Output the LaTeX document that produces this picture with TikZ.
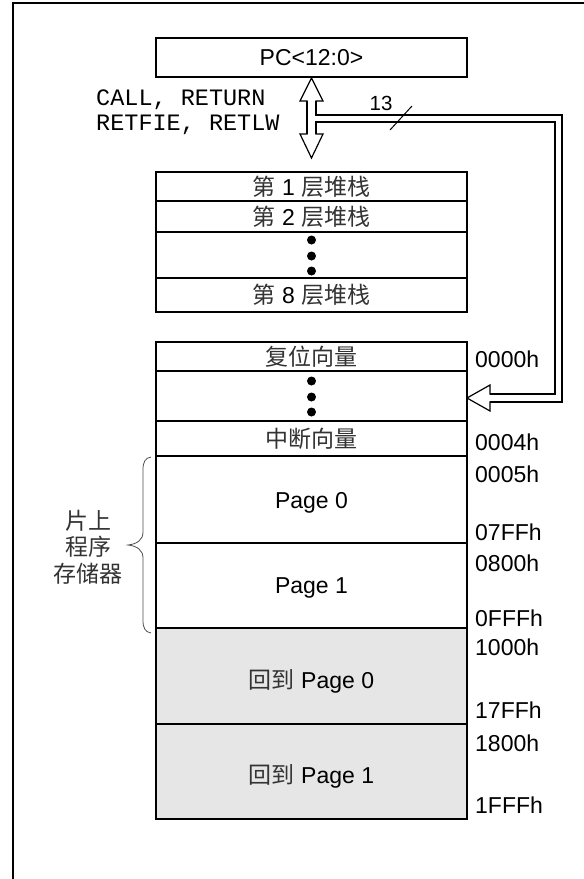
\documentclass[tikz,border=0pt]{standalone}
\usepackage{fontspec}
\setmainfont{Liberation Sans}
\setmonofont{Liberation Mono}
\newfontfamily\cjk{Noto Sans CJK SC}
\definecolor{cjkgray}{HTML}{333333}
\definecolor{memgray}{HTML}{E6E6E6}
\newcommand\zh[1]{{\cjk\color{cjkgray}#1}}
\tikzset{
  cell/.style={draw, line width=2.5pt, fill=white, minimum width=311pt, minimum height=#1, inner sep=0pt, anchor=center},
  graycell/.style={cell=#1, fill=memgray},
  addr/.style={anchor=west, inner sep=0pt},
  dotmark/.style={circle, fill=black, inner sep=0pt, minimum size=9pt},
  bus/.style={line width=2.5pt, line join=miter},
}
\begin{document}
\begin{tikzpicture}[x=1pt, y=-1pt, font=\fontsize{23}{27}\selectfont]
\useasboundingbox (0,0) rectangle (584,879);
% frame
\draw[line width=2.5pt] (13,879) -- (13,3) -- (590,3);

% PC
\node[cell=39pt] (pc) at (311.5,57.5) {PC<12:0>};

% stack
\node[cell=29pt] (s1) at (311.5,186.5) {\zh{第} 1 \zh{层堆栈}};
\node[cell=31pt] (s2) at (311.5,216.5) {\zh{第} 2 \zh{层堆栈}};
\node[cell=46pt] (sd) at (311.5,255) {};
\node[cell=34pt] (s8) at (311.5,295) {\zh{第} 8 \zh{层堆栈}};
\node[dotmark] (sd1) at (311.5,240) {};
\node[dotmark] (sd2) at (311.5,256) {};
\node[dotmark] (sd3) at (311.5,271) {};

% call text
\node[anchor=west, inner sep=0pt, font=\ttfamily\fontsize{23.5}{25}\selectfont, align=left] (calls) at (96,112.5) {CALL, RETURN\\RETFIE, RETLW};

% bus / double arrow
\draw[line width=1.2pt, fill=white, line join=miter]
  (311.5,78) -- (323,101) -- (316,101) -- (316,115) -- (562,115) -- (562,402) -- (490,402) -- (490,411)
  -- (467,398) -- (490,385) -- (490,394) -- (555,394) -- (555,122) -- (316,122) -- (316,134)
  -- (323,134) -- (311.5,158) -- (300,134) -- (307,134) -- (307,101) -- (300,101) -- cycle;
\draw[bus] (307,101) -- (307,134);
\draw[bus] (316,101) -- (316,115) -- (562,115) -- (562,402) -- (490,402);
\draw[bus] (490,394) -- (555,394) -- (555,122) -- (316,122) -- (316,134);
\draw[line width=1pt] (390,130) -- (412,106);
\node (n13) at (381,103) {\fontsize{20.5}{22}\selectfont 13};

% memory
\node[cell=29pt] (reset) at (311.5,356.5) {\zh{复位向量}};
\node[cell=50pt] (md) at (311.5,396) {};
\node[dotmark] (md1) at (311.5,381) {};
\node[dotmark] (md2) at (311.5,397) {};
\node[dotmark] (md3) at (311.5,412) {};
\node[cell=35pt] (intv) at (311.5,438.5) {\zh{中断向量}};
\node[cell=87pt] (p0) at (311.5,499.5) {};
\node (p0t) at (311.5,503) {Page 0};
\node[cell=85pt] (p1) at (311.5,585.5) {};
\node (p1t) at (311.5,588) {Page 1};
\node[graycell=96pt] (g0) at (311.5,676) {};
\node (g0t) at (311.5,681) {\zh{回到} Page 0};
\node[graycell=95pt] (g1) at (311.5,771.5) {};
\node (g1t) at (311.5,776) {\zh{回到} Page 1};

% addresses
\node[addr] (a0) at (475,359) {0000h};
\node[addr] (a4) at (475,442) {0004h};
\node[addr] (a5) at (475,474) {0005h};
\node[addr] (a7ff) at (475,532) {07FFh};
\node[addr] (a800) at (475,563) {0800h};
\node[addr] (afff) at (475,618) {0FFFh};
\node[addr] (a1000) at (475,647) {1000h};
\node[addr] (a17ff) at (475,710) {17FFh};
\node[addr] (a1800) at (475,743) {1800h};
\node[addr] (a1fff) at (475,805) {1FFFh};

% brace
\draw[line width=0.8pt, color=black!70]
  (151,457) .. controls (145,458) and (143,462) .. (143,470) -- (143,532)
  .. controls (143,540) and (137,544) .. (128,545)
  .. controls (137,546) and (143,550) .. (143,558) -- (143,620)
  .. controls (143,628) and (145,632) .. (151,633);
\node[align=center, font=\fontsize{23}{26.5}\selectfont] (lab) at (88,547) {\zh{片上}\\\zh{程序}\\\zh{存储器}};
\end{tikzpicture}
\end{document}
